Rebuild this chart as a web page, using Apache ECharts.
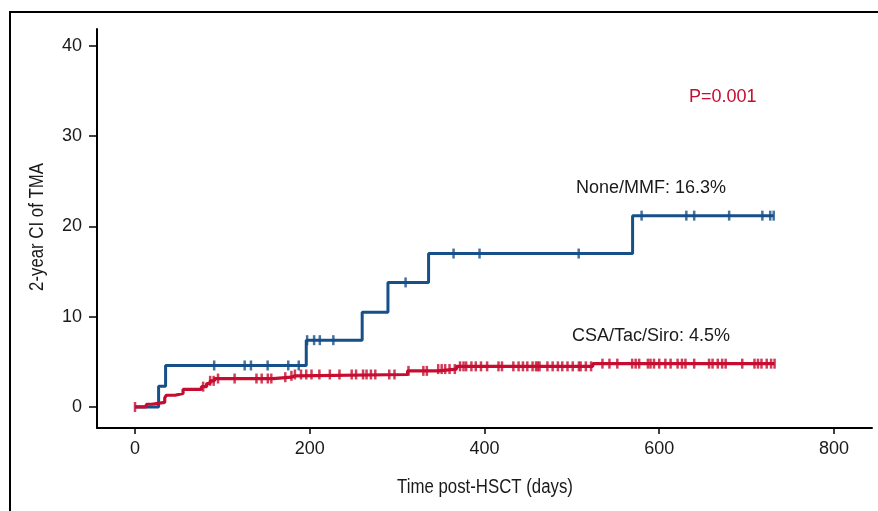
<!DOCTYPE html>
<html>
<head>
<meta charset="utf-8">
<script src="https://cdn.jsdelivr.net/npm/echarts@6/dist/echarts.min.js"></script>
<style>
html,body{margin:0;padding:0;background:#fff;}
#chart{width:878px;height:511px;}
</style>
</head>
<body>
<div id="chart"></div>
<script>
// ---- data ----
const xTicks = [0, 200, 400, 600, 800];
const yTicks = [0, 10, 20, 30, 40];

const noneTimes  = [0, 27, 35, 196, 260, 289.5, 336, 569.5, 731];
const noneValues = [0, 2.3, 4.6, 7.4, 10.5, 13.8, 17.0, 21.2, 21.2];
const noneCensor = [90.6, 125.5, 132.7, 151.8, 175.4, 187.4, 197, 205, 211.5, 227, 309.7, 364.6, 394.3, 507.8, 579.8, 631, 640, 680, 718, 727, 731];

const csaTimes  = [0, 13, 19, 34, 36, 46, 55, 76, 82, 86, 91, 158, 179, 183, 312, 347, 368, 524, 732];
const csaValues = [0, 0.3, 0.5, 1.0, 1.3, 1.5, 1.95, 2.25, 2.6, 2.9, 3.15, 3.3, 3.45, 3.6, 4.0, 4.2, 4.5, 4.8, 4.8];
const csaCensor = [0, 78, 86, 90, 95, 114, 139, 145, 152, 156, 172, 179, 183, 190, 196, 202, 211, 223, 234, 248, 253, 261, 265, 270, 275, 291, 297,
  313, 330, 334, 347, 351, 355, 360, 366, 372, 376, 379, 385, 390, 396, 403, 416, 420, 433, 439, 444, 449, 455, 459, 461, 463, 472, 478, 484, 489, 495, 501,
  508, 510, 516, 522, 535, 543, 552, 569, 573, 577, 587, 590, 594, 600, 607, 613, 621, 626, 630, 640, 657, 661, 667, 672, 676, 695, 709, 713, 717, 723, 728, 732];

const xTitle = 'Time post-HSCT (days)';
const yTitle = '2-year CI of TMA';
const labelNone = 'None/MMF: 16.3%';
const labelCsa = 'CSA/Tac/Siro: 4.5%';
const pText = 'P=0.001';

// ---- helpers ----
function pairs(t, v) { return t.map((x, i) => [x, v[i]]); }
function stepValue(t, v, x) {
  let y = v[0];
  for (let i = 0; i < t.length; i++) { if (t[i] <= x) y = v[i]; }
  return y;
}
function censorPts(times, t, v) { return times.map(x => [x, stepValue(t, v, x)]); }

const BLUE = '#174f88';
const RED = '#c60c30';
const TXT = '#1a1a1a';
const sansFont = '"Liberation Sans", Arial, Helvetica, sans-serif';

const chart = echarts.init(document.getElementById('chart'), null, {renderer: 'canvas'});
chart.setOption({
  animation: false,
  backgroundColor: '#fff',
  grid: {left: 97, right: 6, top: 29, bottom: 83, containLabel: false},
  xAxis: {
    type: 'value', min: -43.5, max: 843.5,
    axisLine: {show: true, onZero: false, lineStyle: {color: '#000', width: 2}},
    axisTick: {show: true, length: 6, inside: false, customValues: xTicks, lineStyle: {color: '#000', width: 1.5}},
    axisLabel: {customValues: xTicks, margin: 12, fontFamily: sansFont, fontSize: 18, color: TXT},
    splitLine: {show: false}
  },
  yAxis: {
    type: 'value', min: -2.33, max: 41.88,
    axisLine: {show: true, onZero: false, lineStyle: {color: '#000', width: 2}},
    axisTick: {show: true, length: 8, inside: false, customValues: yTicks, lineStyle: {color: '#000', width: 1.5}},
    axisLabel: {customValues: yTicks, margin: 15, fontFamily: sansFont, fontSize: 18, color: TXT},
    splitLine: {show: false}
  },
  series: [
    {
      name: 'None/MMF', type: 'line', step: 'end', data: pairs(noneTimes, noneValues),
      showSymbol: false, symbol: 'none', lineStyle: {color: BLUE, width: 3}, z: 2
    },
    {
      name: 'None/MMF censor', type: 'scatter', data: censorPts(noneCensor, noneTimes, noneValues),
      symbol: 'rect', symbolSize: [2.5, 10], itemStyle: {color: BLUE}, z: 3
    },
    {
      name: 'CSA/Tac/Siro', type: 'line', step: 'end', data: pairs(csaTimes, csaValues),
      showSymbol: false, symbol: 'none', lineStyle: {color: RED, width: 3.2}, z: 4
    },
    {
      name: 'CSA/Tac/Siro censor', type: 'scatter', data: censorPts(csaCensor, csaTimes, csaValues),
      symbol: 'rect', symbolSize: [2.5, 10], itemStyle: {color: RED}, z: 5
    }
  ],
  graphic: [
    {type: 'rect', shape: {x: 10, y: 12, width: 1000, height: 700}, style: {fill: null, stroke: '#000', lineWidth: 2}, silent: true, z: 0},
    {type: 'text', left: 689, top: 88, style: {text: pText, fill: RED, font: '18px ' + sansFont}},
    {type: 'text', left: 576, top: 179, style: {text: labelNone, fill: TXT, font: '18px ' + sansFont}},
    {type: 'text', left: 572, top: 327, style: {text: labelCsa, fill: TXT, font: '18px ' + sansFont}},
    {type: 'text', x: 485, y: 487, scaleX: 0.84, style: {x: 0, y: 0, text: xTitle, fill: TXT, font: '20px ' + sansFont, align: 'center', verticalAlign: 'middle'}},
    {type: 'text', x: 37, y: 227, rotation: Math.PI / 2, scaleX: 0.84, style: {x: 0, y: 0, text: yTitle, fill: TXT, font: '20px ' + sansFont, align: 'center', verticalAlign: 'middle'}}
  ]
});
</script>
</body>
</html>
